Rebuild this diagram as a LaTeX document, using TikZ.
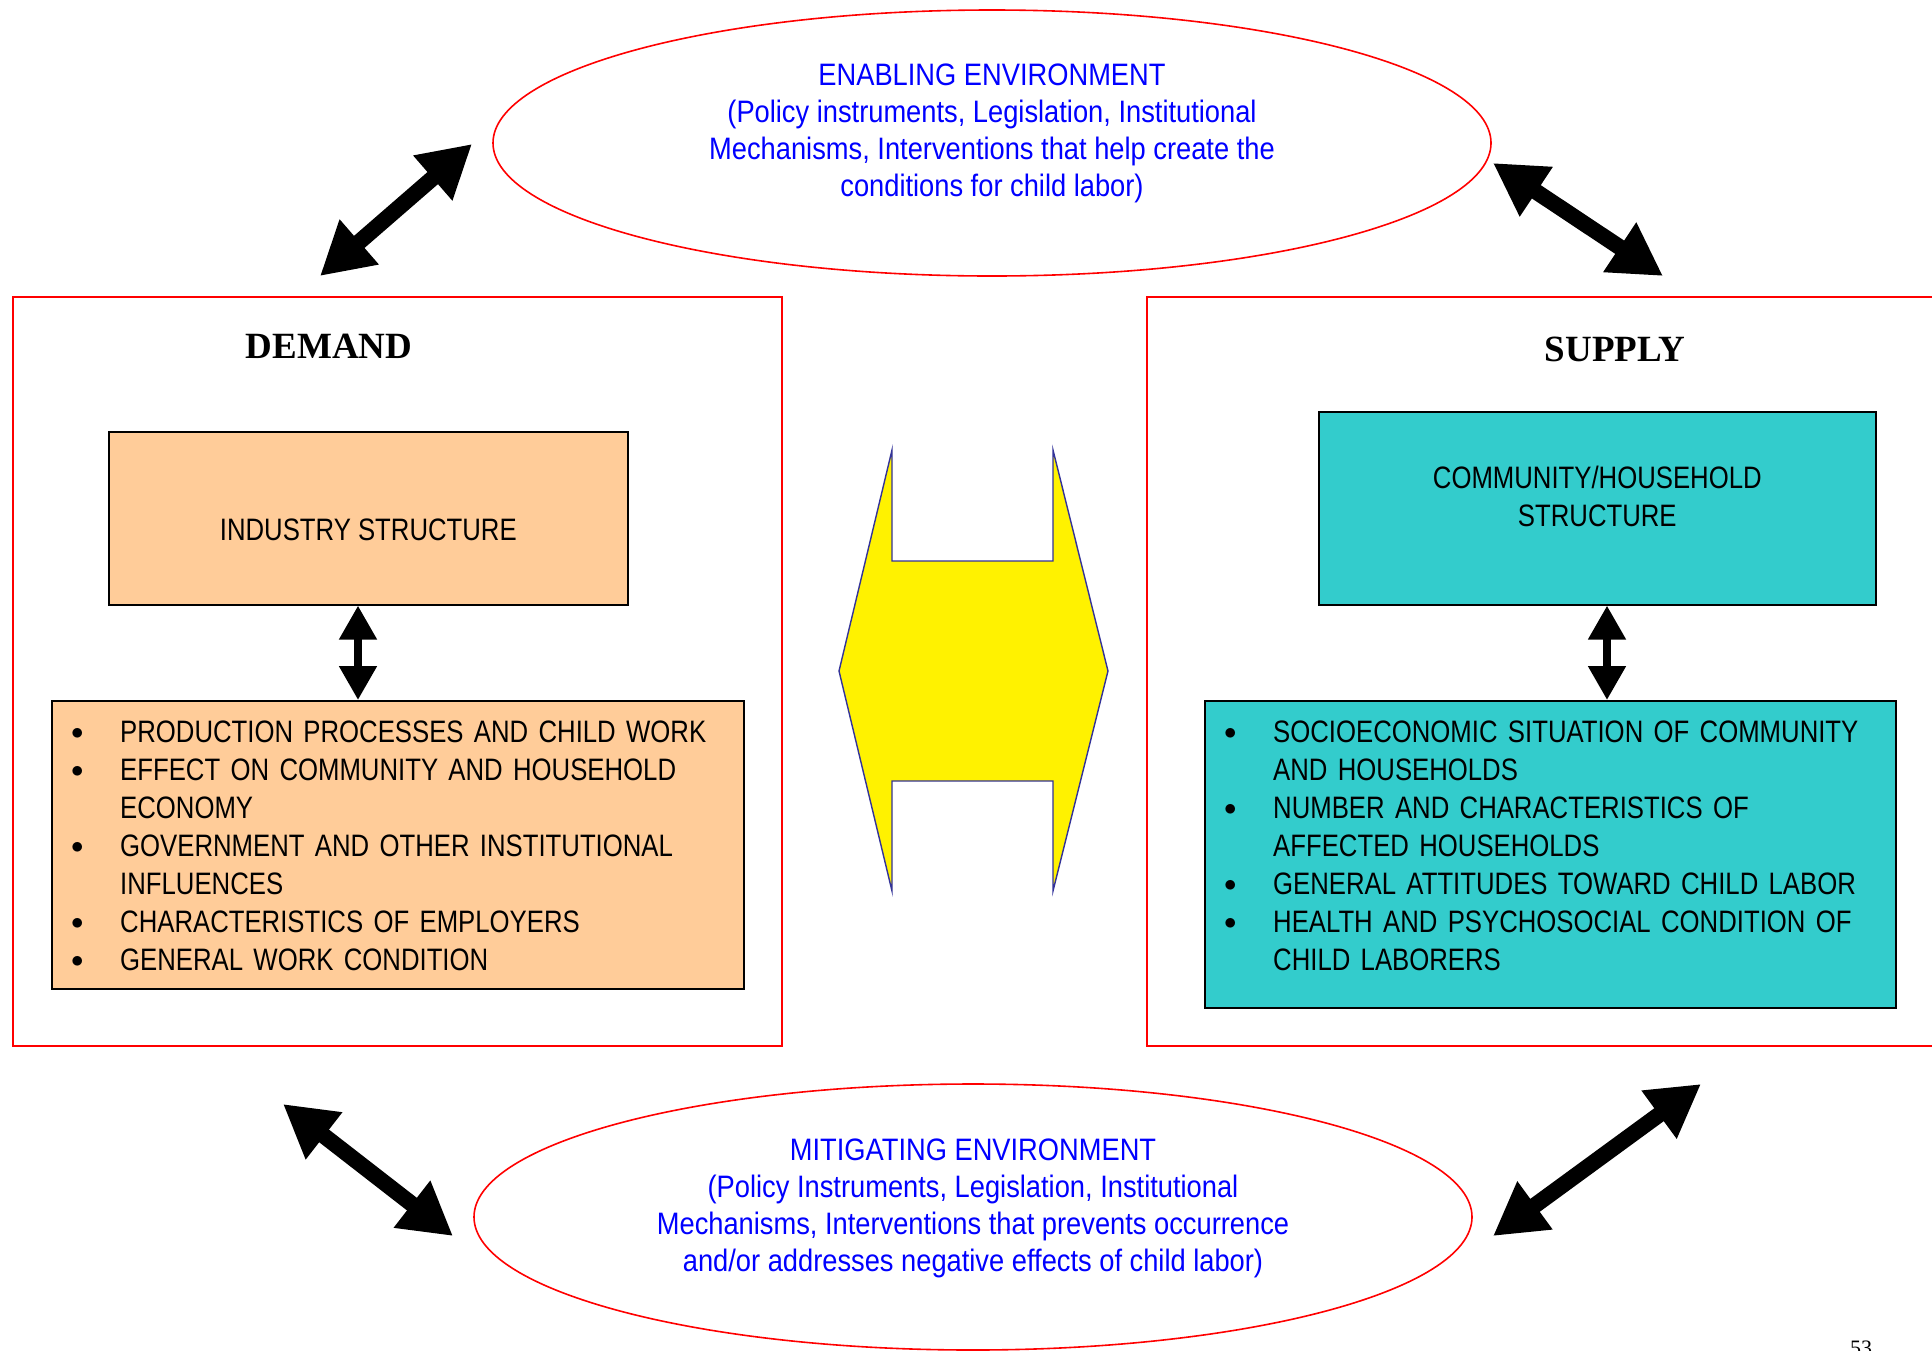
\documentclass[tikz,border=0pt]{standalone}
\usepackage{fontspec}
\usepackage{tikz}
\usetikzlibrary{shapes.geometric,arrows.meta,positioning}
\newfontfamily\narrowsans{Liberation Sans}[FakeStretch=0.83]
\newfontfamily\envsans{Liberation Sans}[FakeStretch=0.88]
\newfontfamily\titleserif{Liberation Serif}
\definecolor{panelred}{RGB}{255,0,0}
\definecolor{peachfill}{RGB}{255,204,153}
\definecolor{tealfill}{RGB}{51,204,204}
\definecolor{navyline}{RGB}{51,51,153}
\definecolor{envblue}{RGB}{0,0,255}
\newcommand{\bodysize}{\fontsize{31}{38}\selectfont}
\newcommand{\bulletmark}{\raisebox{3pt}{$\bullet$}}
\newcommand{\bitem}[1]{\noindent\hangindent=49pt\hangafter=1\makebox[49pt][l]{\hspace{0pt}\bulletmark}#1\par}

\tikzset{
  panel/.style={draw=panelred, line width=1.6pt, inner sep=0pt, anchor=north west},
  envshape/.style={ellipse, draw=panelred, line width=1.6pt, inner sep=0pt,
    minimum width=998pt, minimum height=266pt},
  envtext/.style={font=\envsans\fontsize{31}{37}\selectfont, text=envblue, align=center, inner sep=0pt},
  factorbox/.style={draw=black, line width=1.6pt, inner sep=0pt, anchor=north west},
  boxtext/.style={font=\narrowsans\bodysize, align=center, inner sep=0pt},
  listtext/.style={font=\narrowsans\bodysize, align=left, inner sep=0pt, anchor=north west, text width=700pt},
  sidetitle/.style={font=\titleserif\bfseries\fontsize{37}{40}\selectfont, inner sep=0pt},
  bigarrow/.style={line width=16pt, {Triangle[length=52pt,width=56pt]}-{Triangle[length=52pt,width=56pt]}},
  smallarrow/.style={line width=8pt, {Triangle[length=34pt,width=36pt]}-{Triangle[length=34pt,width=36pt]}},
  hshape/.style={fill=yellow, draw=navyline, line width=1.4pt, line join=miter}
}

\begin{document}
\begin{tikzpicture}[x=1pt, y=-1pt]
    \useasboundingbox (0,0) rectangle (1932,1350);

    % demand and supply panels
    \node[panel, minimum width=769pt, minimum height=749pt] (demand) at (12,296) {};
    \node[panel, minimum width=820pt, minimum height=749pt] (supply) at (1146,296) {};
    \node[sidetitle] (demandlbl) at (329,346) {DEMAND};
    \node[sidetitle] (supplylbl) at (1615,349) {SUPPLY};

    % environments
    \node[envshape] (enable) at (992,143) {};
    \node[envtext] (enabletxt) at ([yshift=10pt]enable.center) {ENABLING ENVIRONMENT\\
        (Policy instruments, Legislation, Institutional\\
        Mechanisms, Interventions that help create the\\
        conditions for child labor)};
    \node[envshape] (mitigate) at (973,1217) {};
    \node[envtext] (mitigatetxt) at ([yshift=9pt]mitigate.center) {MITIGATING ENVIRONMENT\\
        (Policy Instruments, Legislation, Institutional\\
        Mechanisms, Interventions that prevents occurrence\\
        and/or addresses negative effects of child labor)};

    % demand side
    \node[factorbox, fill=peachfill, minimum width=519pt, minimum height=173pt] (industry) at (108,431) {};
    \node[boxtext] (industrytxt) at ([yshift=-11.5pt]industry.center) {INDUSTRY STRUCTURE};
    \node[factorbox, fill=peachfill, minimum width=692pt, minimum height=288pt] (dlist) at (51,700) {};
    \node[listtext] (dlisttxt) at ([xshift=20pt,yshift=-21pt]dlist.north west) {%
        \bitem{PRODUCTION PROCESSES AND CHILD WORK}
        \bitem{EFFECT ON COMMUNITY AND HOUSEHOLD\newline ECONOMY}
        \bitem{GOVERNMENT AND OTHER INSTITUTIONAL\newline INFLUENCES}
        \bitem{CHARACTERISTICS OF EMPLOYERS}
        \bitem{GENERAL WORK CONDITION}};

    % supply side
    \node[factorbox, fill=tealfill, minimum width=557pt, minimum height=193pt] (community) at (1318,411) {};
    \node[boxtext] (communitytxt) at ([yshift=11.5pt]community.center) {COMMUNITY/HOUSEHOLD\\ STRUCTURE};
    \node[factorbox, fill=tealfill, minimum width=691pt, minimum height=307pt] (slist) at (1204,700) {};
    \node[listtext] (slisttxt) at ([xshift=20pt,yshift=-21pt]slist.north west) {%
        \bitem{SOCIOECONOMIC SITUATION OF COMMUNITY\newline AND HOUSEHOLDS}
        \bitem{NUMBER AND CHARACTERISTICS OF\newline AFFECTED HOUSEHOLDS}
        \bitem{GENERAL ATTITUDES TOWARD CHILD LABOR}
        \bitem{HEALTH AND PSYCHOSOCIAL CONDITION OF\newline CHILD LABORERS}};

    \coordinate (dmid) at (358,650);
    \coordinate (smid) at (1607,650);
    \draw[smallarrow] (dmid |- industry.south) -- (dmid |- dlist.north);
    \draw[smallarrow] (smid |- community.south) -- (smid |- slist.north);

    % interaction between demand and supply
    \draw[hshape] (892,450) -- (892,561) -- (1053,561) -- (1053,450) -- (1108,671)
        -- (1053,891) -- (1053,781) -- (892,781) -- (892,891) -- (839,671) -- cycle;

    % links to the environments
    \coordinate (tla) at (320,276);
    \coordinate (tlb) at (472,144);
    \coordinate (tra) at (1493,163);
    \coordinate (trb) at (1663,276);
    \coordinate (bla) at (283,1104);
    \coordinate (blb) at (453,1236);
    \coordinate (bra) at (1493,1236);
    \coordinate (brb) at (1701,1084);
    \draw[bigarrow] (tla) -- (tlb);
    \draw[bigarrow] (tra) -- (trb);
    \draw[bigarrow] (bla) -- (blb);
    \draw[bigarrow] (bra) -- (brb);

    \node[font=\titleserif\fontsize{22}{22}\selectfont, anchor=north west, inner sep=0pt] (pagenum) at (1850,1341) {53};
\end{tikzpicture}
\end{document}
